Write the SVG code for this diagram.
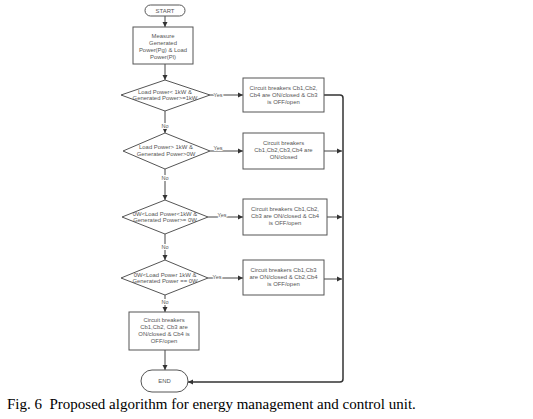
<svg xmlns="http://www.w3.org/2000/svg" width="533" height="419" viewBox="0 0 533 419">
<style>
.n{fill:#fff;stroke:#555;stroke-width:1}
.t{font-family:"Liberation Sans",Arial,sans-serif;font-size:5.9px;fill:#555;text-anchor:middle}
.l{font-family:"Liberation Sans",Arial,sans-serif;font-size:5.5px;fill:#555;text-anchor:middle;stroke:#fff;stroke-width:2;paint-order:stroke}
.c{fill:none;stroke:#444;stroke-width:1}
.r{fill:none;stroke:#333;stroke-width:1.5}
.cap{font-family:"Liberation Serif","Times New Roman",serif;font-size:15px;fill:#000}
</style>
<defs>
<marker id="a" markerWidth="6" markerHeight="6" refX="5" refY="3" orient="auto" markerUnits="userSpaceOnUse">
<path d="M0,0.5 L5,3 L0,5.5 Z" fill="#333"/>
</marker>
</defs>
<rect width="533" height="419" fill="#fff"/>
<g id="connectors">
<line class="c" x1="165" y1="16" x2="165" y2="27" marker-end="url(#a)"/>
<line class="c" x1="165" y1="64" x2="165" y2="80" marker-end="url(#a)"/>
<line class="c" x1="165" y1="111" x2="165" y2="133" marker-end="url(#a)"/>
<line class="c" x1="165" y1="169" x2="165" y2="200" marker-end="url(#a)"/>
<line class="c" x1="165" y1="234" x2="165" y2="260" marker-end="url(#a)"/>
<line class="c" x1="165" y1="295" x2="165" y2="312" marker-end="url(#a)"/>
<line class="c" x1="165" y1="350" x2="165" y2="370" marker-end="url(#a)"/>
<line class="c" x1="210" y1="95" x2="243" y2="95" marker-end="url(#a)"/>
<line class="c" x1="210" y1="151" x2="243" y2="151" marker-end="url(#a)"/>
<line class="c" x1="208" y1="217" x2="243" y2="217" marker-end="url(#a)"/>
<line class="c" x1="208" y1="278" x2="243" y2="278" marker-end="url(#a)"/>
<path class="r" d="M324,95 H340 Q343,95 343,98 V379 Q343,382 340,382 H188" marker-end="url(#a)"/>
<line class="c" x1="324" y1="151" x2="342" y2="151" marker-end="url(#a)"/>
<line class="c" x1="327" y1="217" x2="342" y2="217" marker-end="url(#a)"/>
<line class="c" x1="324" y1="279" x2="342" y2="279" marker-end="url(#a)"/>
<text class="l" x="218" y="97">Yes</text>
<text class="l" x="218" y="150">Yes</text>
<text class="l" x="222" y="217">Yes</text>
<text class="l" x="217" y="279">Yes</text>
<text class="l" x="165" y="128">No</text>
<text class="l" x="165" y="180">No</text>
<text class="l" x="165" y="249">No</text>
<text class="l" x="165" y="304">No</text>
</g>
<g id="start">
<rect class="n" x="145" y="5" width="40" height="11" rx="5.5"/>
<text class="t" x="165" y="12.5">START</text>
</g>
<g id="measure">
<rect class="n" x="133" y="27" width="60" height="37"/>
<text class="t" x="163" y="38">Measure</text>
<text class="t" x="163" y="45">Generated</text>
<text class="t" x="163" y="52">Power(Pg) &amp; Load</text>
<text class="t" x="163" y="59">Power(Pl)</text>
</g>
<g id="d1">
<polygon class="n" points="165,80 210,95 165,111 121,95"/>
<text class="t" x="165" y="94">Load Power&lt; 1kW &amp;</text>
<text class="t" x="165" y="100">Generated Power&gt;=1kW</text>
</g>
<g id="b1">
<rect class="n" x="243" y="78" width="81" height="34"/>
<text class="t" x="283.5" y="90">Circuit breakers Cb1,Cb2,</text>
<text class="t" x="283.5" y="97">Cb4 are ON/closed &amp; Cb3</text>
<text class="t" x="283.5" y="104">is OFF/open</text>
</g>
<g id="d2">
<polygon class="n" points="165,133 210,151 165,169 123,151"/>
<text class="t" x="166" y="149">Load Power&gt; 1kW &amp;</text>
<text class="t" x="166" y="156">Generated Power&gt;0W</text>
</g>
<g id="b2">
<rect class="n" x="243" y="133" width="81" height="36"/>
<text class="t" x="283.5" y="145">Circuit breakers</text>
<text class="t" x="283.5" y="152">Cb1,Cb2,Cb3,Cb4 are</text>
<text class="t" x="283.5" y="159">ON/closed</text>
</g>
<g id="d3">
<polygon class="n" points="165,200 208,217 165,234 122,217"/>
<text class="t" x="165" y="216">0W&lt;Load Power&lt;1kW &amp;</text>
<text class="t" x="165" y="222">Generated Power&gt;= 0W</text>
</g>
<g id="b3">
<rect class="n" x="243" y="199" width="84" height="36"/>
<text class="t" x="285" y="211">Circuit breakers Cb1,Cb2,</text>
<text class="t" x="285" y="218">Cb3 are ON/closed &amp; Cb4</text>
<text class="t" x="285" y="225">is OFF/open</text>
</g>
<g id="d4">
<polygon class="n" points="165,260 208,278 165,295 121,278"/>
<text class="t" x="165" y="277">0W&lt;Load Power 1kW &amp;</text>
<text class="t" x="165" y="283">Generated Power == 0W</text>
</g>
<g id="b4">
<rect class="n" x="243" y="260" width="81" height="35"/>
<text class="t" x="283.5" y="272">Circuit breakers Cb1,Cb3</text>
<text class="t" x="283.5" y="279">are ON/closed &amp; Cb2,Cb4</text>
<text class="t" x="283.5" y="286">is OFF/open</text>
</g>
<g id="b5">
<rect class="n" x="129" y="312" width="70" height="38"/>
<text class="t" x="164" y="322">Circuit breakers</text>
<text class="t" x="164" y="329">Cb1,Cb2, Cb3 are</text>
<text class="t" x="164" y="336">ON/closed &amp; Cb4 is</text>
<text class="t" x="164" y="343">OFF/open</text>
</g>
<g id="end">
<rect class="n" x="141" y="370" width="47" height="22" rx="11"/>
<text class="t" x="164.5" y="383">END</text>
</g>
<text class="cap" x="7" y="409">Fig. 6&#160; Proposed algorithm for energy management and control unit.</text>
</svg>
